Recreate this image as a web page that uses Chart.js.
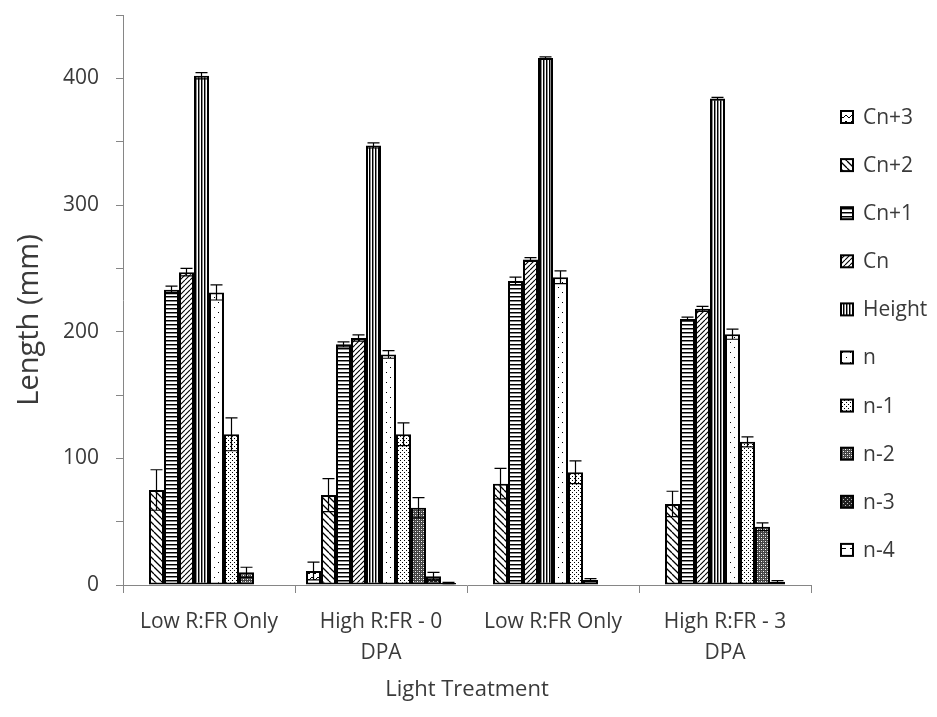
<!DOCTYPE html>
<html><head><meta charset="utf-8">
<script src="https://cdn.jsdelivr.net/npm/chart.js@4.4.0/dist/chart.umd.min.js"></script>
<style>html,body{margin:0;padding:0;background:#fff;}</style>
</head><body>
<canvas id="c" width="937" height="717"></canvas>
<script>
// ---- data ----
const categories = ["Low R:FR Only", ["High R:FR - 0", "DPA"], "Low R:FR Only", ["High R:FR - 3", "DPA"]];
const seriesNames = ["Cn+3", "Cn+2", "Cn+1", "Cn", "Height", "n", "n-1", "n-2", "n-3", "n-4"];
const cnPlus3 = [null, 11, null, null];
const cnPlus2 = [75, 71, 80, 64];
const cnPlus1 = [233, 190, 240, 210];
const cn      = [247, 195, 257, 218];
const height  = [402, 347, 416, 384];
const nLeaf   = [231, 182, 243, 198];
const nMinus1 = [119, 119, 89, 113];
const nMinus2 = [10, 61, 4, 46];
const nMinus3 = [null, 7, null, 2.5];
const nMinus4 = [null, 1.5, null, null];
const errCnPlus3 = [null, 7, null, null];
const errCnPlus2 = [16, 13, 12, 10];
const errCnPlus1 = [3, 2, 3, 1.5];
const errCn      = [3, 2.5, 1.5, 2];
const errHeight  = [2.5, 2, 1, 1];
const errN       = [6, 3, 5, 4];
const errNMinus1 = [13, 9, 9, 4];
const errNMinus2 = [4, 8, 1, 3];
const errNMinus3 = [null, 3, null, 1];
const errNMinus4 = [null, 0.5, null, null];
const yTicksShown = [0, 100, 200, 300, 400];
const yTitle = 'Length (mm)';
const xTitle = 'Light Treatment';

// ---- patterns ----
function makePattern(w, h, draw) {
  const c = document.createElement('canvas'); c.width = w; c.height = h;
  const x = c.getContext('2d'); x.fillStyle = '#fff'; x.fillRect(0, 0, w, h);
  draw(x, w, h);
  return x.createPattern(c, 'repeat');
}
function diag(x, w, h, back, lw) {
  x.strokeStyle = '#000'; x.lineWidth = lw; x.beginPath();
  for (const o of [-w, 0, w]) {
    if (back) { x.moveTo(o, 0); x.lineTo(o + w, h); }
    else { x.moveTo(o, h); x.lineTo(o + w, 0); }
  }
  x.stroke();
}
const patterns = [
  makePattern(6, 6, (x) => { x.strokeStyle = '#000'; x.lineWidth = 1; x.beginPath(); x.moveTo(0, 1); x.lineTo(3, 4); x.lineTo(6, 1); x.stroke(); }),
  makePattern(7, 7, (x, w, h) => diag(x, w, h, true, 1.3)),
  makePattern(4, 4, (x, w) => { x.fillStyle = '#000'; x.fillRect(0, 0, w, 1); x.fillStyle = '#888'; x.fillRect(0, 1, w, 1); }),
  makePattern(5, 5, (x, w, h) => diag(x, w, h, false, 1.1)),
  makePattern(3, 2, (x) => { x.fillStyle = '#000'; x.fillRect(0, 0, 1, 2); x.fillStyle = '#8a8a8a'; x.fillRect(1, 0, 1, 2); }),
  makePattern(8, 10, (x) => { x.fillStyle = '#000'; x.fillRect(2, 2, 1, 1); x.fillRect(6, 7, 1, 1); }),
  makePattern(4, 4, (x) => { x.fillStyle = '#000'; x.fillRect(0, 0, 1, 1); x.fillRect(2, 2, 1, 1); }),
  makePattern(4, 4, (x) => { x.fillStyle = '#444'; x.fillRect(0, 0, 4, 4); x.fillStyle = '#fff'; x.fillRect(1, 1, 1, 1); x.fillRect(3, 3, 1, 1); x.fillStyle = '#999'; x.fillRect(1, 3, 1, 1); x.fillRect(3, 1, 1, 1); }),
  makePattern(4, 4, (x) => { x.fillStyle = '#222'; x.fillRect(0, 0, 4, 4); x.fillStyle = '#bbb'; x.fillRect(1, 1, 1, 1); x.fillRect(3, 3, 1, 1); }),
  makePattern(8, 8, (x) => { x.fillStyle = '#000'; x.fillRect(2, 4, 4, 1); })
];

const values = [cnPlus3, cnPlus2, cnPlus1, cn, height, nLeaf, nMinus1, nMinus2, nMinus3, nMinus4];
const errors = [errCnPlus3, errCnPlus2, errCnPlus1, errCn, errHeight, errN, errNMinus1, errNMinus2, errNMinus3, errNMinus4];

const datasets = seriesNames.map((name, i) => ({
  label: name,
  data: values[i],
  errors: errors[i],
  backgroundColor: patterns[i],
  borderColor: '#000',
  borderWidth: 2,
  borderSkipped: false,
  barPercentage: 1.0,
  categoryPercentage: 0.872
}));

const textColor = '#3a3a3a';
const FONT = "'Open Sans', sans-serif";

const errorBarPlugin = {
  id: 'errorBars',
  afterDatasetsDraw(chart) {
    const ctx = chart.ctx, ys = chart.scales.y;
    chart.data.datasets.forEach((ds, di) => {
      const meta = chart.getDatasetMeta(di);
      meta.data.forEach((bar, i) => {
        const v = ds.data[i], e = ds.errors[i];
        if (v == null || e == null) return;
        const x = bar.x;
        const yT = ys.getPixelForValue(v + e), yB = ys.getPixelForValue(Math.max(0, v - e));
        ctx.save(); ctx.strokeStyle = '#000'; ctx.lineWidth = 1.2; ctx.beginPath();
        ctx.moveTo(x, yT); ctx.lineTo(x, yB);
        ctx.moveTo(x - 6, yT); ctx.lineTo(x + 6, yT);
        ctx.moveTo(x - 6, yB); ctx.lineTo(x + 6, yB);
        ctx.stroke(); ctx.restore();
      });
    });
  }
};

const legendPlugin = {
  id: 'customLegend',
  afterDraw(chart) {
    const ctx = chart.ctx, ca = chart.chartArea;
    const x0 = ca.right + 30, y0 = ca.top + 102, step = 48.1;
    ctx.save();
    chart.data.datasets.forEach((ds, i) => {
      const y = y0 + i * step;
      ctx.fillStyle = ds.backgroundColor; ctx.fillRect(x0, y - 6, 12, 12);
      ctx.strokeStyle = '#000'; ctx.lineWidth = 2; ctx.strokeRect(x0, y - 6, 12, 12);
      ctx.fillStyle = textColor; ctx.font = "21px " + FONT; ctx.textBaseline = 'middle'; ctx.textAlign = 'left';
      ctx.fillText(ds.label, x0 + 22, y + 1);
    });
    // y-axis title (slightly below plot centre, as in the original)
    ctx.translate(30, (ca.top + ca.bottom) / 2 + 20);
    ctx.rotate(-Math.PI / 2);
    ctx.font = "29px " + FONT; ctx.textAlign = 'center'; ctx.textBaseline = 'middle';
    ctx.fillStyle = textColor;
    ctx.fillText(yTitle, 0, 0);
    ctx.restore();
  }
};

new Chart(document.getElementById('c'), {
  type: 'bar',
  data: { labels: categories, datasets },
  plugins: [errorBarPlugin, legendPlugin],
  options: {
    responsive: false,
    animation: false,
    layout: { padding: { left: 0, right: 126, top: 15, bottom: 0 } },
    plugins: { legend: { display: false }, tooltip: { enabled: false } },
    scales: {
      x: {
        grid: { display: true, drawOnChartArea: false, offset: true, tickLength: 8, color: '#868686' },
        border: { color: '#868686', width: 1 },
        ticks: { color: textColor, font: { family: FONT, size: 21, lineHeight: 1.45 }, padding: 14, maxRotation: 0, autoSkip: false },
        title: { display: true, text: xTitle, color: textColor, font: { family: FONT, size: 22 }, padding: { top: 0, bottom: 14 } },
        afterFit(s) { s.height = 132; s.paddingLeft = 0; s.paddingRight = 0; }
      },
      y: {
        min: 0, max: 450,
        grid: { display: true, drawOnChartArea: false, tickLength: 7, color: '#868686' },
        border: { color: '#868686', width: 1 },
        ticks: { stepSize: 50, color: textColor, font: { family: FONT, size: 21 }, padding: 17,
          callback: (v) => yTicksShown.includes(v) ? String(v) : '' },
        title: { display: false },
        afterFit(s) { s.width = 123; s.paddingTop = 0; s.paddingBottom = 0; }
      }
    }
  }
});
</script>
</body></html>
